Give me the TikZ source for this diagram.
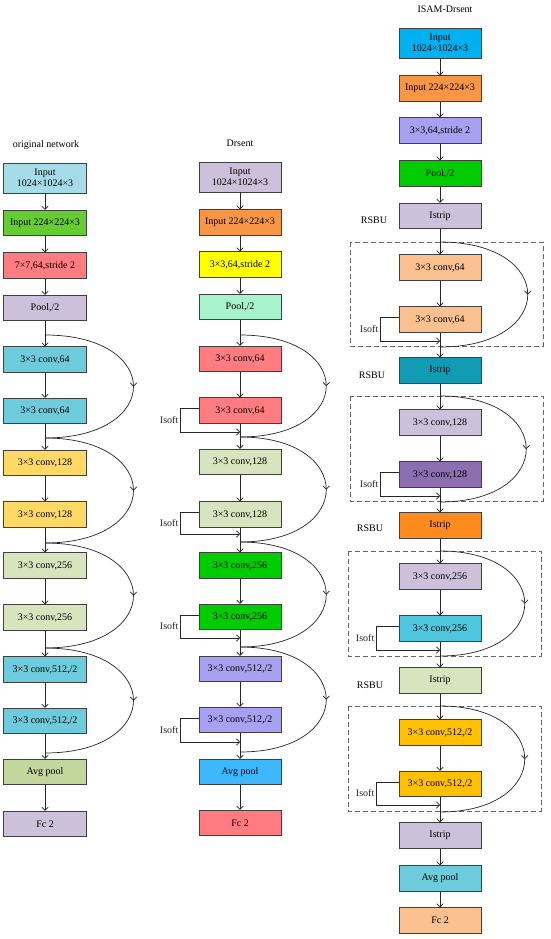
\documentclass[tikz,border=0pt]{standalone}
\usepackage{fontspec}
\setmainfont{Liberation Serif}
\usetikzlibrary{arrows.meta,decorations.markings,calc}

\definecolor{paleblue}{HTML}{A6DCEA}
\definecolor{grassgreen}{HTML}{66CC33}
\definecolor{salmon}{HTML}{FF7C80}
\definecolor{lilac}{HTML}{CCC0DA}
\definecolor{aqua}{HTML}{6DCBDB}
\definecolor{sand}{HTML}{FFD966}
\definecolor{sage}{HTML}{D7E4BD}
\definecolor{olive}{HTML}{C3D69B}
\definecolor{tangerine}{HTML}{F79646}
\definecolor{lemon}{HTML}{FFFF00}
\definecolor{mint}{HTML}{A6F3CC}
\definecolor{leaf}{HTML}{00CC00}
\definecolor{periwinkle}{HTML}{A8A0F0}
\definecolor{sky}{HTML}{3DB8FF}
\definecolor{azure}{HTML}{00B0F0}
\definecolor{peach}{HTML}{FAC090}
\definecolor{teal}{HTML}{119CB4}
\definecolor{plum}{HTML}{8C6FB0}
\definecolor{amber}{HTML}{FF8A1E}
\definecolor{turquoise}{HTML}{4EC6DE}
\definecolor{gold}{HTML}{FFC000}

\begin{document}
\begin{tikzpicture}
		% We need to define the drawing style (1pt = 1px, y runs downwards)
		[x=1pt, y=-1pt,
		font=\fontsize{10}{11.5}\selectfont,
		>={Straight Barb[length=3.2pt,width=6.5pt]},
		blocks/.style={draw=black!75, line width=0.7pt, minimum width=82pt, minimum height=25.5pt, inner sep=1pt, align=center},
		tallblocks/.style={blocks, minimum height=30pt},
		links/.style={->, black!85, line width=0.7pt},
		skips/.style={black!85, line width=0.7pt, postaction={decorate},
			decoration={markings, mark=at position 0.5 with {\arrow{>}}}},
		units/.style={draw=black!60, dashed, dash pattern=on 5pt off 3pt, line width=0.7pt},
		labels/.style={inner sep=2pt}]
	
		\useasboundingbox (0,0) rectangle (550,939);
	
		% First the original network
		\begin{scope}[xshift=45pt, blocks/.append style={minimum width=83pt}]
			\node (otitle) at (1,145) {original network};
			\node[tallblocks, fill=paleblue] (oin1) at (0,178) {Input\\1024×1024×3};
			\node[blocks, fill=grassgreen] (oin2) at (0,223) {Input 224×224×3};
			\node[blocks, fill=salmon] (oc7) at (0,265.5) {7×7,64,stride 2};
			\node[blocks, fill=lilac] (opool) at (0,308) {Pool,/2};
			\node[blocks, fill=aqua] (o64a) at (0,359.5) {3×3 conv,64};
			\node[blocks, fill=aqua] (o64b) at (0,411) {3×3 conv,64};
			\node[blocks, fill=sand] (o128a) at (0,463) {3×3 conv,128};
			\node[blocks, fill=sand] (o128b) at (0,514.5) {3×3 conv,128};
			\node[blocks, fill=sage] (o256a) at (0,565.5) {3×3 conv,256};
			\node[blocks, fill=sage] (o256b) at (0,617.5) {3×3 conv,256};
			\node[blocks, fill=aqua] (o512a) at (0,669.5) {3×3 conv,512,/2};
			\node[blocks, fill=aqua] (o512b) at (0,721) {3×3 conv,512,/2};
			\node[blocks, fill=olive] (oavg) at (0,772) {Avg pool};
			\node[blocks, fill=lilac] (ofc) at (0,824) {Fc 2};
			
			\coordinate (oj1) at (0,335);
			\coordinate (oj2) at (0,438);
			\coordinate (oj3) at (0,543);
			\coordinate (oj4) at (0,648);
			\coordinate (oj5) at (0,753);
			
			\draw[links] (oin1) -- (oin2);
			\draw[links] (oin2) -- (oc7);
			\draw[links] (oc7) -- (opool);
			\draw[links] (opool) -- (o64a);
			\draw[links] (o64a) -- (o64b);
			\draw[links] (o64b) -- (o128a);
			\draw[links] (o128a) -- (o128b);
			\draw[links] (o128b) -- (o256a);
			\draw[links] (o256a) -- (o256b);
			\draw[links] (o256b) -- (o512a);
			\draw[links] (o512a) -- (o512b);
			\draw[links] (o512b) -- (oavg);
			\draw[links] (oavg) -- (ofc);
			
			% the shortcut arcs
			\draw[skips] (oj1) .. controls ($(oj1)+(118,0)$) and ($(oj2)+(118,0)$) .. (oj2);
			\draw[skips] (oj2) .. controls ($(oj2)+(118,0)$) and ($(oj3)+(118,0)$) .. (oj3);
			\draw[skips] (oj3) .. controls ($(oj3)+(118,0)$) and ($(oj4)+(118,0)$) .. (oj4);
			\draw[skips] (oj4) .. controls ($(oj4)+(118,0)$) and ($(oj5)+(118,0)$) .. (oj5);
		\end{scope}
		
		% Second: the Drsent
		\begin{scope}[xshift=240pt]
			\node (dtitle) at (0,143) {Drsent};
			\node[tallblocks, fill=lilac] (din1) at (0,177) {Input\\1024×1024×3};
			\node[blocks, fill=tangerine] (din2) at (0,222.5) {Input 224×224×3};
			\node[blocks, fill=lemon] (dc3) at (0,264.5) {3×3,64,stride 2};
			\node[blocks, fill=mint] (dpool) at (0,307) {Pool,/2};
			\node[blocks, fill=salmon] (d64a) at (0,359) {3×3 conv,64};
			\node[blocks, fill=salmon] (d64b) at (0,410.5) {3×3 conv,64};
			\node[blocks, fill=sage] (d128a) at (0,462) {3×3 conv,128};
			\node[blocks, fill=sage] (d128b) at (0,514.5) {3×3 conv,128};
			\node[blocks, fill=leaf] (d256a) at (0,565.5) {3×3 conv,256};
			\node[blocks, fill=leaf] (d256b) at (0,617) {3×3 conv,256};
			\node[blocks, fill=periwinkle] (d512a) at (0,669) {3×3 conv,512,/2};
			\node[blocks, fill=periwinkle] (d512b) at (0,720) {3×3 conv,512,/2};
			\node[blocks, fill=sky] (davg) at (0,772) {Avg pool};
			\node[blocks, fill=salmon] (dfc) at (0,823) {Fc 2};
			
			\coordinate (dj1) at (0,335);
			\coordinate (dj2) at (0,437);
			\coordinate (dj3) at (0,542);
			\coordinate (dj4) at (0,647);
			\coordinate (dj5) at (0,752);
			\coordinate (dk1) at (0,432);
			\coordinate (dk2) at (0,534);
			\coordinate (dk3) at (0,638);
			\coordinate (dk4) at (0,742);
			
			\draw[links] (din1) -- (din2);
			\draw[links] (din2) -- (dc3);
			\draw[links] (dc3) -- (dpool);
			\draw[links] (dpool) -- (d64a);
			\draw[links] (d64a) -- (d64b);
			\draw[links] (d64b) -- (d128a);
			\draw[links] (d128a) -- (d128b);
			\draw[links] (d128b) -- (d256a);
			\draw[links] (d256a) -- (d256b);
			\draw[links] (d256b) -- (d512a);
			\draw[links] (d512a) -- (d512b);
			\draw[links] (d512b) -- (davg);
			\draw[links] (davg) -- (dfc);
			
			% the shortcut arcs
			\draw[skips] (dj1) .. controls ($(dj1)+(115,0)$) and ($(dj2)+(115,0)$) .. (dj2);
			\draw[skips] (dj2) .. controls ($(dj2)+(115,0)$) and ($(dj3)+(115,0)$) .. (dj3);
			\draw[skips] (dj3) .. controls ($(dj3)+(115,0)$) and ($(dj4)+(115,0)$) .. (dj4);
			\draw[skips] (dj4) .. controls ($(dj4)+(115,0)$) and ($(dj5)+(115,0)$) .. (dj5);
			
			% the Isoft loops on the left
			\draw[links] ([yshift=2pt]d64b.west) -- ++(-18,0) |- node[pos=0.25, left, labels] {Isoft} (dk1);
			\draw[links] ([yshift=2pt]d128b.west) -- ++(-18,0) |- node[pos=0.25, left, labels] {Isoft} (dk2);
			\draw[links] ([yshift=2pt]d256b.west) -- ++(-18,0) |- node[pos=0.25, left, labels] {Isoft} (dk3);
			\draw[links] ([yshift=2pt]d512b.west) -- ++(-18,0) |- node[pos=0.25, left, labels] {Isoft} (dk4);
		\end{scope}
		
		% Third: the ISAM-Drsent with its RSBU units
		\begin{scope}[xshift=440pt]
			% dashed frames first, they stay in the back
			\draw[units] (-90,242) rectangle (103,346);
			\draw[units] (-90,396) rectangle (103,501);
			\draw[units] (-92,551) rectangle (101,656);
			\draw[units] (-92,706) rectangle (101,811);
			
			\node (stitle) at (5,9) {ISAM-Drsent};
			\node[tallblocks, fill=azure] (sin1) at (0,43) {Input\\1024×1024×3};
			\node[blocks, fill=tangerine] (sin2) at (0,88.5) {Input 224×224×3};
			\node[blocks, fill=periwinkle] (sc3) at (0,130.5) {3×3,64,stride 2};
			\node[blocks, fill=leaf] (spool) at (0,173.5) {Pool,/2};
			\node[blocks, fill=lilac] (sstripA) at (0,216) {Istrip};
			\node[blocks, fill=peach] (s64a) at (0,267.5) {3×3 conv,64};
			\node[blocks, fill=peach] (s64b) at (0,319.5) {3×3 conv,64};
			\node[blocks, fill=teal] (sstripB) at (0,370.5) {Istrip};
			\node[blocks, fill=lilac] (s128a) at (0,422.5) {3×3 conv,128};
			\node[blocks, fill=plum] (s128b) at (0,474.5) {3×3 conv,128};
			\node[blocks, fill=amber] (sstripC) at (0,525.5) {Istrip};
			\node[blocks, fill=lilac] (s256a) at (0,576.5) {3×3 conv,256};
			\node[blocks, fill=turquoise] (s256b) at (0,628.5) {3×3 conv,256};
			\node[blocks, fill=sage] (sstripD) at (0,680.5) {Istrip};
			\node[blocks, fill=gold] (s512a) at (0,732.5) {3×3 conv,512,/2};
			\node[blocks, fill=gold] (s512b) at (0,784) {3×3 conv,512,/2};
			\node[blocks, fill=lilac] (sstripE) at (0,835.5) {Istrip};
			\node[blocks, fill=aqua] (savg) at (0,878.5) {Avg pool};
			\node[blocks, fill=peach] (sfc) at (0,920.5) {Fc 2};
			
			\node (srA) at (-66,220) {RSBU};
			\node (srB) at (-68,375) {RSBU};
			\node (srC) at (-70,528) {RSBU};
			\node (srD) at (-70,685) {RSBU};
			
			\coordinate (sjA1) at (0,242);
			\coordinate (sjA2) at (0,347);
			\coordinate (sjB1) at (0,396);
			\coordinate (sjB2) at (0,502);
			\coordinate (sjC1) at (0,551);
			\coordinate (sjC2) at (0,656);
			\coordinate (sjD1) at (0,706);
			\coordinate (sjD2) at (0,812);
			\coordinate (skA) at (0,341);
			\coordinate (skB) at (0,496);
			\coordinate (skC) at (0,650);
			\coordinate (skD) at (0,805);
			
			\draw[links] (sin1) -- (sin2);
			\draw[links] (sin2) -- (sc3);
			\draw[links] (sc3) -- (spool);
			\draw[links] (spool) -- (sstripA);
			\draw[links] (sstripA) -- (s64a);
			\draw[links] (s64a) -- (s64b);
			\draw[links] (s64b) -- (sstripB);
			\draw[links] (sstripB) -- (s128a);
			\draw[links] (s128a) -- (s128b);
			\draw[links] (s128b) -- (sstripC);
			\draw[links] (sstripC) -- (s256a);
			\draw[links] (s256a) -- (s256b);
			\draw[links] (s256b) -- (sstripD);
			\draw[links] (sstripD) -- (s512a);
			\draw[links] (s512a) -- (s512b);
			\draw[links] (s512b) -- (sstripE);
			\draw[links] (sstripE) -- (savg);
			\draw[links] (savg) -- (sfc);
			
			% the shortcut arcs
			\draw[skips] (sjA1) .. controls ($(sjA1)+(117,0)$) and ($(sjA2)+(117,0)$) .. (sjA2);
			\draw[skips] (sjB1) .. controls ($(sjB1)+(115,0)$) and ($(sjB2)+(115,0)$) .. (sjB2);
			\draw[skips] (sjC1) .. controls ($(sjC1)+(113,0)$) and ($(sjC2)+(113,0)$) .. (sjC2);
			\draw[skips] (sjD1) .. controls ($(sjD1)+(113,0)$) and ($(sjD2)+(113,0)$) .. (sjD2);
			
			% the Isoft loops on the left
			\draw[links] ([yshift=2pt]s64b.west) -- ++(-18,0) |- node[pos=0.25, left, labels] {Isoft} (skA);
			\draw[links] ([yshift=2pt]s128b.west) -- ++(-18,0) |- node[pos=0.25, left, labels] {Isoft} (skB);
			\draw[links] ([yshift=2pt]s256b.west) -- ++(-22,0) |- node[pos=0.25, left, labels] {Isoft} (skC);
			\draw[links] ([yshift=2pt]s512b.west) -- ++(-22,0) |- node[pos=0.25, left, labels] {Isoft} (skD);
		\end{scope}
	\end{tikzpicture}
\end{document}
